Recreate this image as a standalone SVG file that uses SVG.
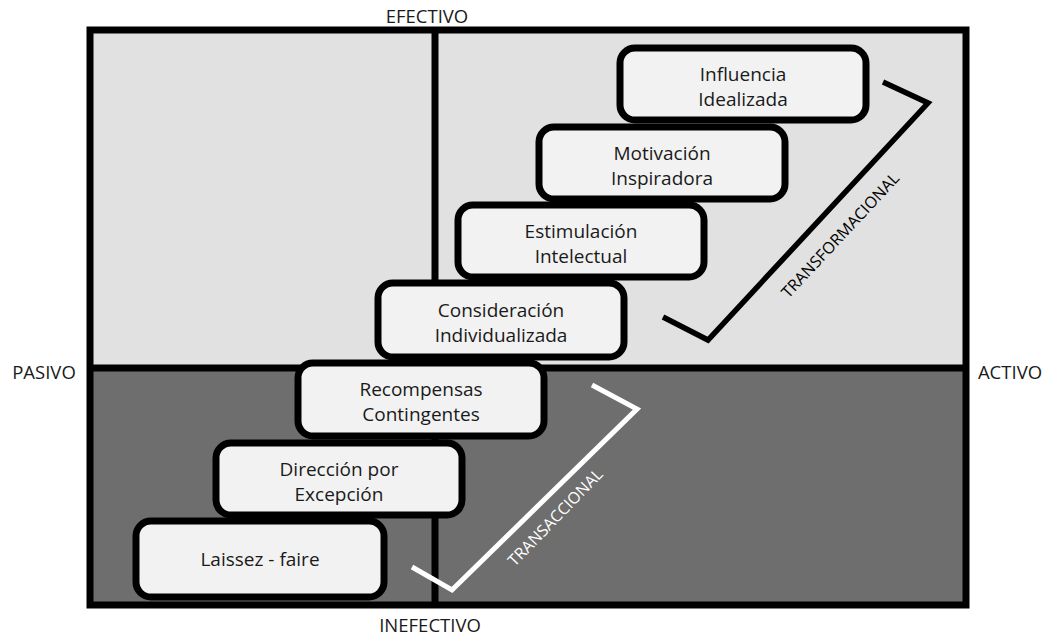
<svg xmlns="http://www.w3.org/2000/svg" width="1048" height="638" viewBox="0 0 1048 638">
<style>
.lbl{font-family:"Open Sans","Liberation Sans",sans-serif;font-size:18.5px;fill:#1a1a1a;text-anchor:middle}
.box rect{fill:#f2f2f2;stroke:#000;stroke-width:7}
.box text{font-family:"Open Sans","Liberation Sans",sans-serif;font-size:19px;fill:#1a1a1a;text-anchor:middle}
.rot{font-family:"Open Sans","Liberation Sans",sans-serif;font-size:16px;text-anchor:middle;dominant-baseline:central}
</style>
<rect width="1048" height="638" fill="#ffffff"/>
<g id="quadrants">
<rect x="90" y="30" width="876" height="338" fill="#e1e1e1"/>
<rect x="90" y="368" width="876" height="237" fill="#6e6e6e"/>
<line x1="435" y1="30" x2="435" y2="605" stroke="#000" stroke-width="7"/>
<line x1="90" y1="368" x2="966" y2="368" stroke="#000" stroke-width="7"/>
<rect x="90" y="30" width="876" height="575" fill="none" stroke="#000" stroke-width="7"/>
</g>
<g id="axis-labels">
<text class="lbl" x="427" y="23">EFECTIVO</text>
<text class="lbl" x="430" y="632">INEFECTIVO</text>
<text class="lbl" x="44" y="379">PASIVO</text>
<text class="lbl" x="1010" y="379">ACTIVO</text>
</g>
<g id="connectors">
<polyline points="883,82 928,103 708,340 663,317" fill="none" stroke="#000" stroke-width="5.5"/>
<polyline points="592,385 637,409 452,590 412,567" fill="none" stroke="#fff" stroke-width="5"/>
<text class="rot" fill="#000" transform="translate(840,235) rotate(-47)" textLength="164" lengthAdjust="spacingAndGlyphs">TRANSFORMACIONAL</text>
<text class="rot" fill="#fff" transform="translate(555,517) rotate(-46)" textLength="128" lengthAdjust="spacingAndGlyphs">TRANSACCIONAL</text>
</g>
<g id="n1" class="box"><rect x="620" y="48" width="246" height="72" rx="15"/><text x="743" y="81">Influencia</text><text x="743" y="106">Idealizada</text></g>
<g id="n2" class="box"><rect x="539" y="127" width="246" height="72" rx="15"/><text x="662" y="160">Motivación</text><text x="662" y="185">Inspiradora</text></g>
<g id="n3" class="box"><rect x="458" y="205" width="246" height="72" rx="15"/><text x="581" y="238">Estimulación</text><text x="581" y="263">Intelectual</text></g>
<g id="n4" class="box"><rect x="378" y="283" width="246" height="74" rx="15"/><text x="501" y="317">Consideración</text><text x="501" y="342">Individualizada</text></g>
<g id="n5" class="box"><rect x="298" y="363" width="246" height="73" rx="15"/><text x="421" y="396">Recompensas</text><text x="421" y="421">Contingentes</text></g>
<g id="n6" class="box"><rect x="216" y="443" width="246" height="72" rx="15"/><text x="339" y="476">Dirección por</text><text x="339" y="501">Excepción</text></g>
<g id="n7" class="box"><rect x="136" y="521" width="248" height="76" rx="15"/><text x="260" y="566">Laissez - faire</text></g>
</svg>
